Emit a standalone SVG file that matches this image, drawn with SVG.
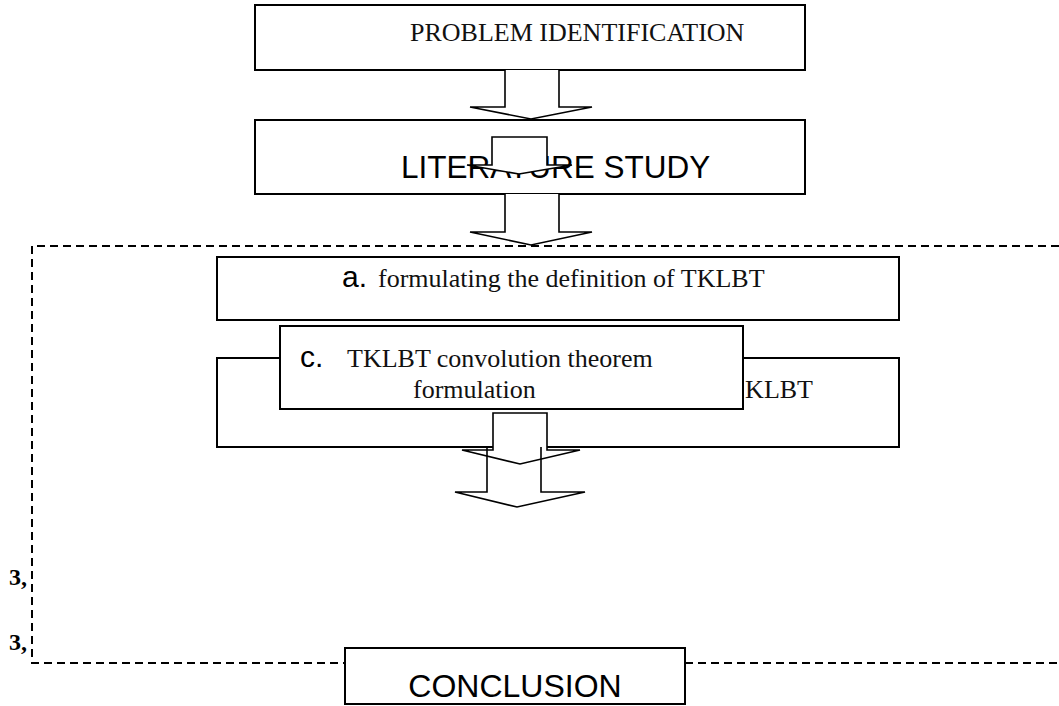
<svg xmlns="http://www.w3.org/2000/svg" width="1059" height="706" viewBox="0 0 1059 706">
<style>
.box{fill:#fff;stroke:#000;stroke-width:2}
.arr{fill:#fff;stroke:#000;stroke-width:1.6;stroke-linejoin:miter}
.arrn{fill:none;stroke:#000;stroke-width:1.6}
.dash{fill:none;stroke:#000;stroke-width:2;stroke-dasharray:8 5}
.tm{font-family:"Liberation Serif","Times New Roman",serif;font-size:26px;fill:#111}
.ar{font-family:"Liberation Sans",Arial,sans-serif;fill:#000}
.lbl{font-family:"Liberation Serif","Times New Roman",serif;font-size:24px;font-weight:bold;fill:#000}
</style>
<rect width="1059" height="706" fill="#fff"/>
<g id="frame">
<path class="dash" d="M1059 246 H32 V663 H345"/>
<path class="dash" d="M685 663 H1059"/>
</g>
<g id="problem">
<rect class="box" x="255" y="5" width="550" height="65"/>
<text class="tm" x="410" y="41" font-size="26.5" fill="#222">PROBLEM IDENTIFICATION</text>
</g>
<g id="literature">
<rect class="box" x="255" y="120" width="550" height="74"/>
<text class="ar" x="401" y="178" font-size="31.5">LITERATURE STUDY</text>
</g>
<g id="step-a">
<rect class="box" x="217" y="257" width="682" height="63"/>
<text x="342" y="287"><tspan class="ar" font-size="30">a.</tspan><tspan class="tm" x="378">formulating the definition of TKLBT</tspan></text>
</g>
<g id="step-b">
<rect class="box" x="217" y="358" width="682" height="89"/>
<text class="tm" x="813" y="398" text-anchor="end">KLBT</text>
</g>
<g id="step-c">
<rect class="box" x="280" y="326" width="463" height="83"/>
<text x="300" y="367"><tspan class="ar" font-size="30">c.</tspan><tspan class="tm" x="347">TKLBT convolution theorem</tspan></text>
<text class="tm" x="413" y="398">formulation</text>
</g>
<g id="conclusion">
<rect class="box" x="345" y="648" width="340" height="56"/>
<text class="ar" x="515" y="697" font-size="32" text-anchor="middle">CONCLUSION</text>
</g>
<g id="labels">
<text class="lbl" x="9" y="585">3,</text>
<text class="lbl" x="9" y="650">3,</text>
</g>
<g id="connectors">
<path class="arr" d="M505 70 V107 H470 L531 119 L592 107 H559 V70"/>
<path class="arr" d="M492 137 V165 H467 L519 174 L572 165 H547 V137 Z"/>
<path class="arr" d="M505 194 V232 H470 L531 245 L592 232 H559 V194"/>
<path class="arr" d="M493 413 V450 H462 L520 464 L580 450 H547 V413 Z"/>
<path class="arrn" d="M487 447 V492 H455 L517 507 L585 492 H541 V447"/>
</g>
</svg>
